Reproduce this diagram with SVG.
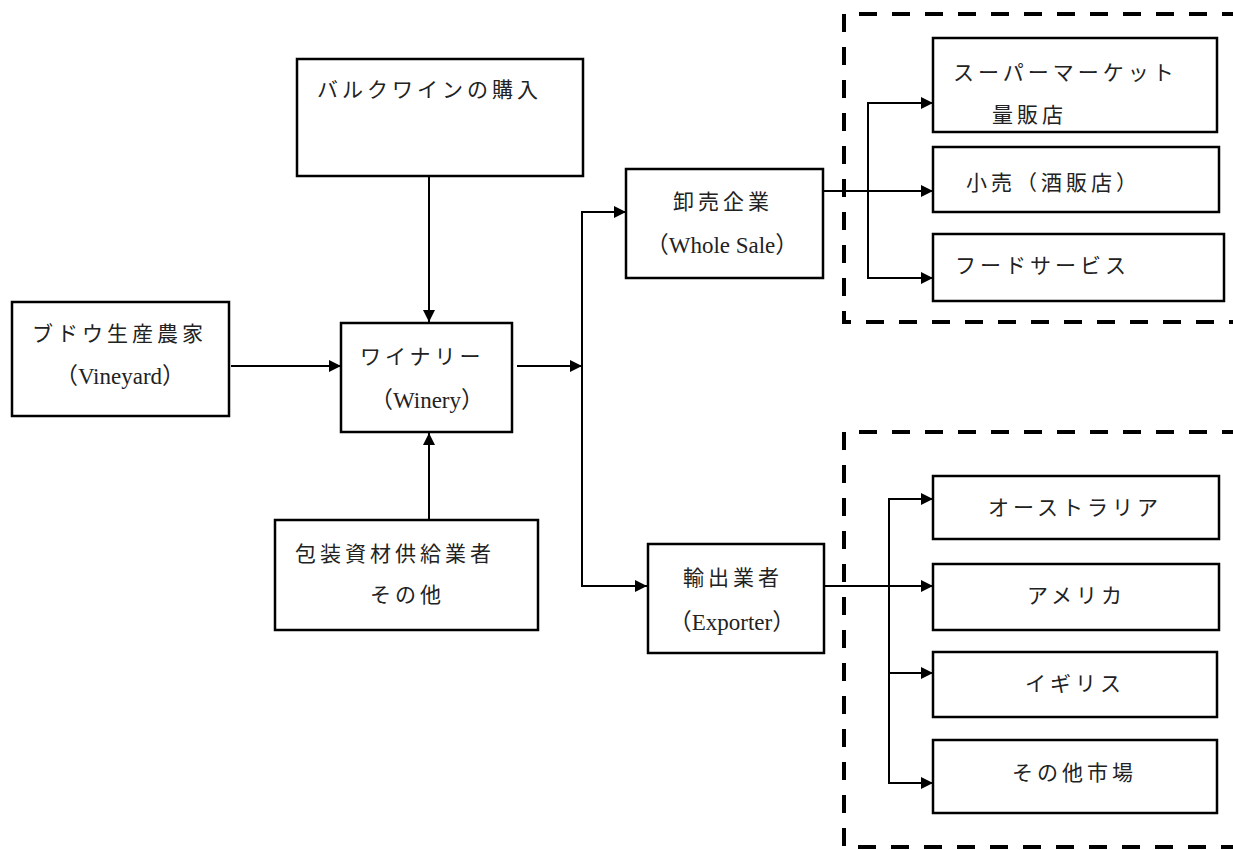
<svg xmlns="http://www.w3.org/2000/svg" width="1233" height="850" viewBox="0 0 1233 850">
<style>
.box{fill:#fff;stroke:#000;stroke-width:2.5}
.ln{fill:none;stroke:#000;stroke-width:2}
.dash{fill:none;stroke:#000;stroke-width:4;stroke-dasharray:18 15}
text{font-family:"Liberation Serif","Noto Sans CJK JP",serif;font-size:21px;fill:#222}
.j{letter-spacing:4px}
.l{font-size:23px;text-anchor:middle}
</style>
<defs>
<marker id="ah" markerUnits="userSpaceOnUse" markerWidth="13" markerHeight="12" refX="12" refY="6" orient="auto">
<path d="M0,0 L12,6 L0,12 z" fill="#000"/>
</marker>
</defs>
<rect width="1233" height="850" fill="#fff"/>
<g id="groups">
<path class="dash" d="M1240,14 H844 V322 H1240"/>
<path class="dash" d="M1240,432 H844 V847 H1240"/>
</g>
<g id="connectors">
<line class="ln" x1="231" y1="366" x2="341" y2="366" marker-end="url(#ah)"/>
<line class="ln" x1="429" y1="176" x2="429" y2="322" marker-end="url(#ah)"/>
<line class="ln" x1="429" y1="520" x2="429" y2="433" marker-end="url(#ah)"/>
<line class="ln" x1="517" y1="366" x2="582" y2="366" marker-end="url(#ah)"/>
<path class="ln" d="M626,212 H582 V586 H647" marker-end="url(#ah)"/>
<line class="ln" x1="582" y1="212" x2="626" y2="212" marker-end="url(#ah)"/>
<line class="ln" x1="823" y1="191" x2="933" y2="191" marker-end="url(#ah)"/>
<path class="ln" d="M933,103 H868 V278 H933" marker-end="url(#ah)"/>
<line class="ln" x1="868" y1="103" x2="933" y2="103" marker-end="url(#ah)"/>
<line class="ln" x1="824" y1="586" x2="933" y2="586" marker-end="url(#ah)"/>
<path class="ln" d="M933,499 H889 V783 H933" marker-end="url(#ah)"/>
<line class="ln" x1="889" y1="499" x2="933" y2="499" marker-end="url(#ah)"/>
<line class="ln" x1="889" y1="673" x2="933" y2="673" marker-end="url(#ah)"/>
</g>
<g id="vineyard">
<rect class="box" x="12" y="302" width="217" height="114"/>
<text class="j" x="32" y="341">ブドウ生産農家</text>
<text class="l" x="120" y="384">（Vineyard）</text>
</g>
<g id="bulk">
<rect class="box" x="297" y="59" width="286" height="117"/>
<text class="j" x="317" y="97">バルクワインの購入</text>
</g>
<g id="winery">
<rect class="box" x="341" y="323" width="171" height="109"/>
<text class="j" x="360" y="364">ワイナリー</text>
<text class="l" x="427" y="408">（Winery）</text>
</g>
<g id="packaging">
<rect class="box" x="275" y="520" width="263" height="110"/>
<text class="j" x="295" y="561">包装資材供給業者</text>
<text class="j" x="370" y="602">その他</text>
</g>
<g id="wholesale">
<rect class="box" x="626" y="169" width="197" height="109"/>
<text class="j" x="673" y="209">卸売企業</text>
<text class="l" x="722" y="253">（Whole Sale）</text>
</g>
<g id="exporter">
<rect class="box" x="648" y="544" width="176" height="109"/>
<text class="j" x="683" y="585">輸出業者</text>
<text class="l" x="732" y="630">（Exporter）</text>
</g>
<g id="supermarket">
<rect class="box" x="933" y="38" width="284" height="94"/>
<text class="j" x="953" y="80">スーパーマーケット</text>
<text class="j" x="992" y="122">量販店</text>
</g>
<g id="retail">
<rect class="box" x="933" y="147" width="286" height="65"/>
<text class="j" x="966" y="190">小売（酒販店）</text>
</g>
<g id="foodservice">
<rect class="box" x="933" y="234" width="291" height="67"/>
<text class="j" x="955" y="273">フードサービス</text>
</g>
<g id="australia">
<rect class="box" x="933" y="476" width="286" height="63"/>
<text class="j" x="988" y="515">オーストラリア</text>
</g>
<g id="america">
<rect class="box" x="933" y="564" width="286" height="66"/>
<text class="j" x="1027" y="603">アメリカ</text>
</g>
<g id="uk">
<rect class="box" x="933" y="652" width="284" height="65"/>
<text class="j" x="1025" y="691">イギリス</text>
</g>
<g id="others">
<rect class="box" x="933" y="740" width="284" height="73"/>
<text class="j" x="1012" y="780">その他市場</text>
</g>
</svg>
